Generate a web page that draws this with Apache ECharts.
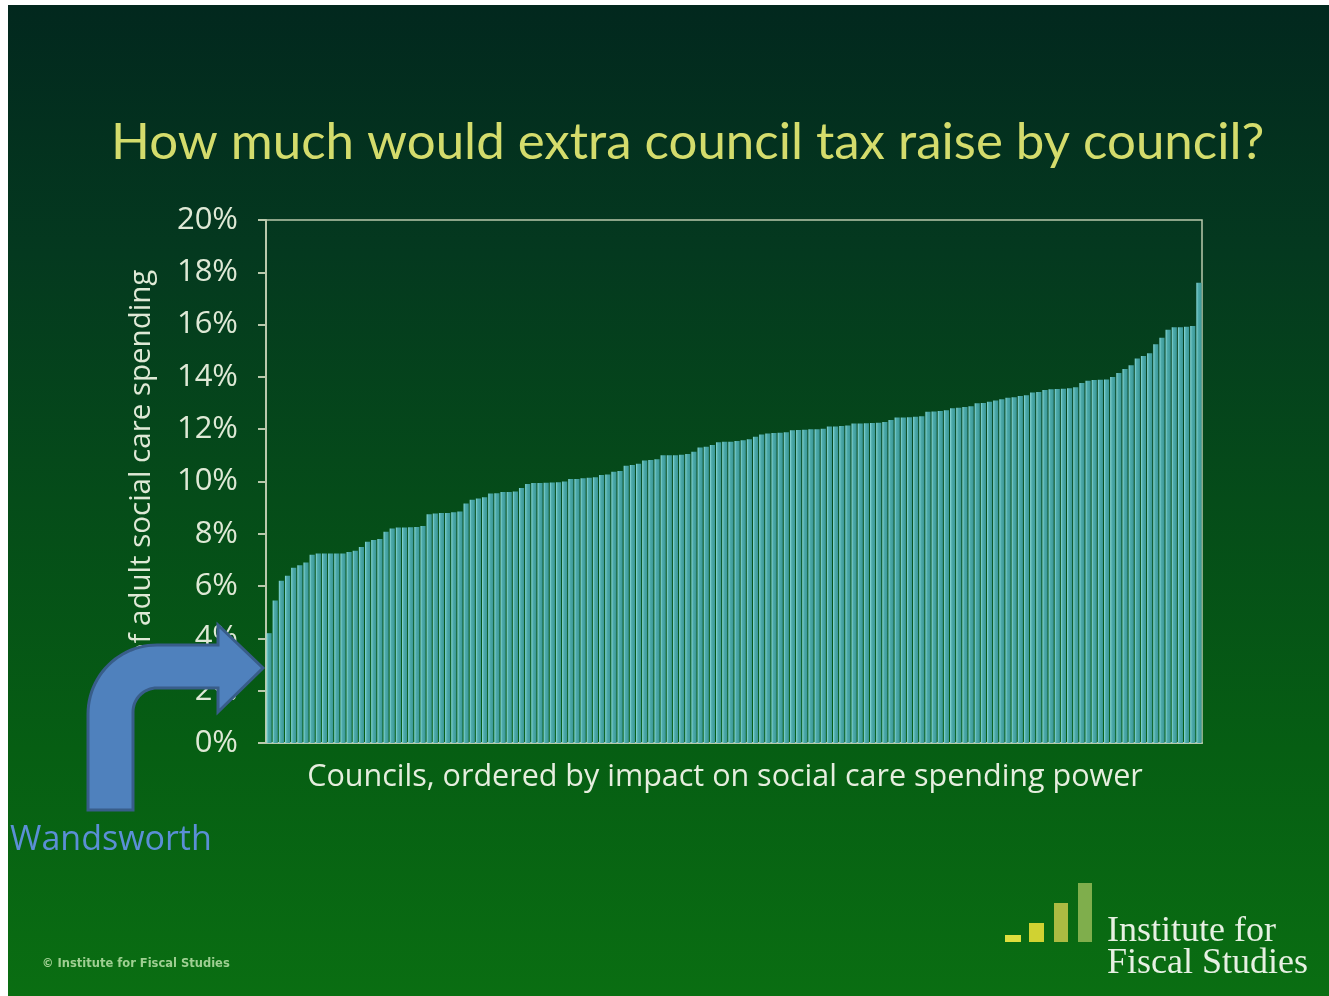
<!DOCTYPE html>
<html>
<head>
<meta charset="utf-8">
<script src="https://cdn.jsdelivr.net/npm/echarts@6/dist/echarts.min.js"></script>
<style>
  html, body { margin: 0; padding: 0; background: #ffffff; }
  #bg { position: absolute; left: 8px; top: 5px; width: 1321px; height: 991px;
        background: linear-gradient(to bottom, #02281e 0%, #04391f 25%, #054c19 50%, #065e13 75%, #0a6e12 100%); }
  #chart { position: absolute; left: 0; top: 0; width: 1329px; height: 996px; }
</style>
</head>
<body>
<div id="bg"></div>
<div id="chart"></div>
<script>
// Extra council tax as % of adult social care spending, councils ordered ascending
const councilValues = [
  4.2, 5.45, 6.2, 6.4, 6.7, 6.8, 6.9, 7.2, 7.25, 7.25,
  7.25, 7.25, 7.25, 7.3, 7.35, 7.5, 7.7, 7.76, 7.8, 8.08,
  8.2, 8.24, 8.24, 8.25, 8.26, 8.3, 8.75, 8.78, 8.8, 8.8,
  8.82, 8.85, 9.16, 9.3, 9.35, 9.4, 9.54, 9.55, 9.6, 9.6,
  9.62, 9.75, 9.9, 9.94, 9.94, 9.95, 9.96, 9.97, 10.0, 10.1,
  10.1, 10.12, 10.14, 10.16, 10.25, 10.27, 10.37, 10.4, 10.6, 10.63,
  10.68, 10.8, 10.82, 10.85, 11.0, 11.0, 11.0, 11.02, 11.05, 11.14,
  11.3, 11.33, 11.4, 11.5, 11.52, 11.52, 11.55, 11.58, 11.62, 11.71,
  11.8, 11.84, 11.85, 11.86, 11.88, 11.96, 11.97, 11.98, 12.0, 12.0,
  12.02, 12.1, 12.1, 12.12, 12.14, 12.22, 12.22, 12.23, 12.24, 12.25,
  12.28, 12.35, 12.45, 12.45, 12.46, 12.48, 12.5, 12.67, 12.68, 12.7,
  12.72, 12.8, 12.82, 12.85, 12.88, 12.99, 13.0, 13.05, 13.1, 13.15,
  13.2, 13.22, 13.27, 13.3, 13.4, 13.42, 13.5, 13.53, 13.54, 13.55,
  13.57, 13.6, 13.77, 13.85, 13.88, 13.89, 13.9, 14.0, 14.15, 14.3,
  14.45, 14.7, 14.8, 14.9, 15.25, 15.5, 15.8, 15.9, 15.9, 15.92,
  15.95, 17.6
];
const councilRanks = councilValues.map((v, i) => String(i + 1));
const yTickLabels = ['0%', '2%', '4%', '6%', '8%', '10%', '12%', '14%', '16%', '18%', '20%'];

const titleText = 'How much would extra council tax raise by council?';
const xAxisName = 'Councils, ordered by impact on social care spending power';
const yAxisName = '% of adult social care spending';
const annotationText = 'Wandsworth';
const logoLines = ['Institute for', 'Fiscal Studies'];
const copyrightText = '\u00A9 Institute for Fiscal Studies';

const axisColor = '#b9c9ac';
const labelColor = '#dfe9d6';

// bent-arrow outline (annotation shape, pointing at the first bar)
function arcPts(cx, cy, r, a0, a1, n) {
  const pts = [];
  for (let k = 0; k <= n; k++) {
    const a = a0 + (a1 - a0) * k / n;
    pts.push([cx + r * Math.cos(a), cy + r * Math.sin(a)]);
  }
  return pts;
}
const arrowPts = [].concat(
  [[88, 810]],
  arcPts(157, 714, 69, Math.PI, 1.5 * Math.PI, 24),
  [[218, 645], [218, 625], [263, 668], [218, 712], [218, 688]],
  arcPts(157, 712, 24, 1.5 * Math.PI, Math.PI, 16),
  [[133, 810]]
);

const chart = echarts.init(document.getElementById('chart'), null, { renderer: 'canvas' });
chart.setOption({
  backgroundColor: 'transparent',
  animation: false,
  title: {
    text: titleText,
    left: 106,
    top: 112,
    textStyle: { fontFamily: 'Lato', fontSize: 51, fontWeight: 'normal', color: '#d4dc6c' }
  },
  grid: {
    left: 266, right: 127, top: 220, bottom: 253,
    show: true, borderColor: axisColor, borderWidth: 1.5, backgroundColor: 'transparent'
  },
  xAxis: {
    type: 'category',
    data: councilRanks,
    name: xAxisName,
    nameLocation: 'middle',
    nameGap: 19,
    nameTextStyle: { fontFamily: 'Open Sans', fontSize: 30.5, color: '#e6eede', verticalAlign: 'top', padding: [0, 18, 0, 0] },
    axisLine: { show: true, lineStyle: { color: axisColor, width: 2 } },
    axisTick: { show: false },
    axisLabel: { show: false },
    splitLine: { show: false }
  },
  yAxis: {
    type: 'value',
    min: 0, max: 20, interval: 2,
    name: yAxisName,
    nameLocation: 'middle',
    nameGap: 109,
    nameRotate: 90,
    nameTextStyle: { fontFamily: 'Open Sans', fontSize: 29.5, color: '#dfe9d6' },
    axisLine: { show: true, lineStyle: { color: axisColor, width: 2 } },
    axisTick: { show: true, inside: false, length: 8, lineStyle: { color: axisColor, width: 2 } },
    axisLabel: {
      margin: 28,
      fontFamily: 'Open Sans', fontSize: 31, color: labelColor,
      formatter: (v) => yTickLabels[Math.round(v / 2)]
    },
    splitLine: { show: false }
  },
  series: [{
    type: 'bar',
    data: councilValues,
    barCategoryGap: '16%',
    itemStyle: {
      color: {
        type: 'linear', x: 0, y: 0, x2: 1, y2: 0,
        colorStops: [
          { offset: 0, color: '#8cdcdc' },
          { offset: 0.35, color: '#4eabab' },
          { offset: 1, color: '#3a9696' }
        ]
      }
    }
  }],
  graphic: [
    {
      type: 'polygon', z: 100,
      shape: { points: arrowPts },
      style: { fill: '#4f81bd', stroke: '#385d8a', lineWidth: 3 }
    },
    {
      type: 'text', z: 100,
      style: { x: 10, y: 840, text: annotationText, font: '34px "Open Sans"', fill: '#5b8fd6', textVerticalAlign: 'middle' }
    },
    { type: 'rect', z: 100, shape: { x: 1005, y: 935, width: 16, height: 7 }, style: { fill: '#dede3e' } },
    { type: 'rect', z: 100, shape: { x: 1029, y: 923, width: 15, height: 19 }, style: { fill: '#d0d232' } },
    { type: 'rect', z: 100, shape: { x: 1054, y: 903, width: 14, height: 39 }, style: { fill: '#abbb42' } },
    { type: 'rect', z: 100, shape: { x: 1078, y: 883, width: 14, height: 59 }, style: { fill: '#7fae4c' } },
    {
      type: 'text', z: 100,
      style: { x: 1107, y: 932, text: logoLines[0], font: '36px "Liberation Serif"', fill: '#e6f0e2', textVerticalAlign: 'middle' }
    },
    {
      type: 'text', z: 100,
      style: { x: 1107, y: 964, text: logoLines[1], font: '36px "Liberation Serif"', fill: '#e6f0e2', textVerticalAlign: 'middle' }
    },
    {
      type: 'text', z: 100,
      style: { x: 42, y: 964, text: copyrightText, font: 'bold 11.5px "DejaVu Sans"', fill: '#9fcf92', textVerticalAlign: 'middle' }
    }
  ]
});
</script>
</body>
</html>
